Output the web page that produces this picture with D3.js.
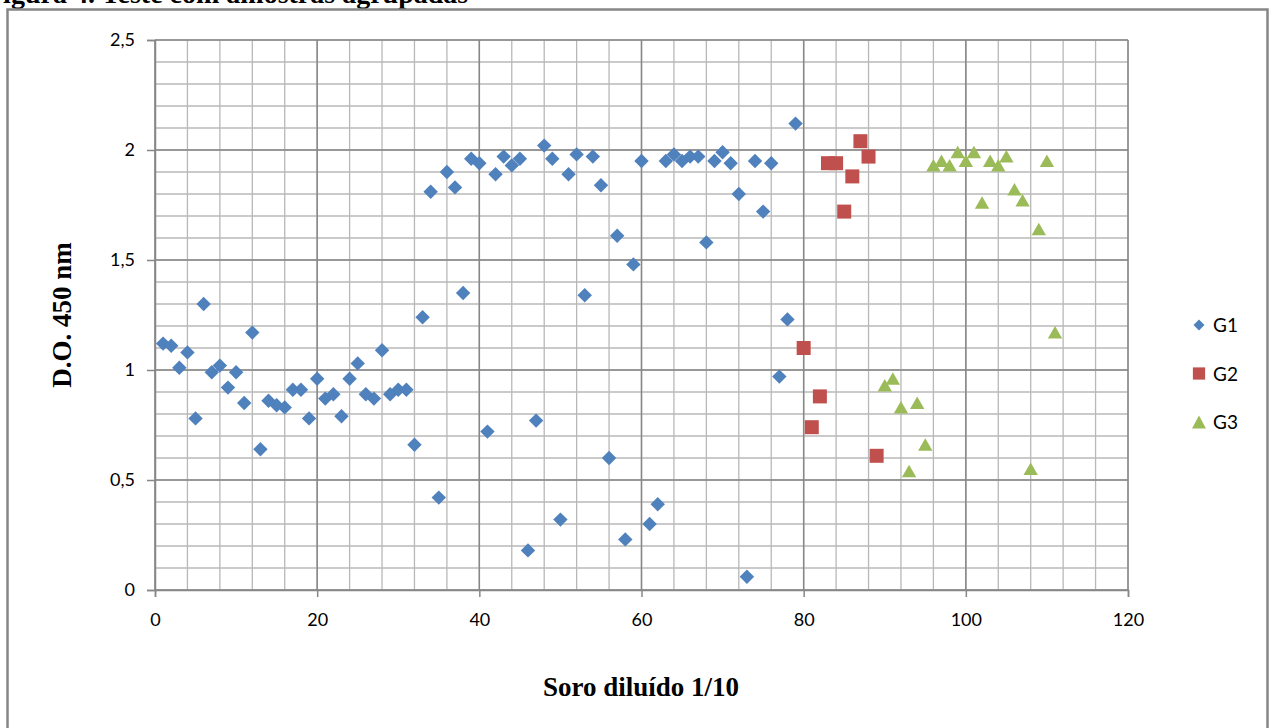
<!DOCTYPE html>
<html>
<head>
<meta charset="utf-8">
<script src="https://cdn.jsdelivr.net/npm/d3@7"></script>
<style>
  body { margin: 0; background: #fff; }
  svg { display: block; }
</style>
</head>
<body>
<div class="grafico"></div>
<script>
// dados
var g1x = [1,2,3,4,5,6,7,8,9,10,11,12,13,14,15,16,17,18,19,20,21,22,23,24,25,26,27,28,29,30,
           31,32,33,34,35,36,37,38,39,40,41,42,43,44,45,46,47,48,49,50,51,52,53,54,55,56,57,58,59,60,
           61,62,63,64,65,66,67,68,69,70,71,72,73,74,75,76,77,78,79];
var g1y = [1.12,1.11,1.01,1.08,0.78,1.30,0.99,1.02,0.92,0.99,0.85,1.17,0.64,0.86,0.84,0.83,0.91,0.91,0.78,0.96,
           0.87,0.89,0.79,0.96,1.03,0.89,0.87,1.09,0.89,0.91,0.91,0.66,1.24,1.81,0.42,1.90,1.83,1.35,1.96,1.94,
           0.72,1.89,1.97,1.93,1.96,0.18,0.77,2.02,1.96,0.32,1.89,1.98,1.34,1.97,1.84,0.60,1.61,0.23,1.48,1.95,
           0.30,0.39,1.95,1.98,1.95,1.97,1.97,1.58,1.95,1.99,1.94,1.80,0.06,1.95,1.72,1.94,0.97,1.23,2.12];
var g2x = [80,81,82,83,84,85,86,87,88,89];
var g2y = [1.10,0.74,0.88,1.94,1.94,1.72,1.88,2.04,1.97,0.61];
var g3x = [90,91,92,93,94,95,96,97,98,99,100,101,102,103,104,105,106,107,108,109,110,111];
var g3y = [0.93,0.96,0.83,0.54,0.85,0.66,1.93,1.95,1.93,1.99,1.95,1.99,1.76,1.95,1.93,1.97,1.82,1.77,0.55,1.64,1.95,1.17];

var series = ["G1", "G2", "G3"];
var xTicks = [0, 20, 40, 60, 80, 100, 120];
var yTicks = [0, 0.5, 1, 1.5, 2, 2.5];
var yTickLabels = ["0", "0,5", "1", "1,5", "2", "2,5"];

var w = 1272;
var h = 728;

var svg = d3.select(".grafico").append("svg")
    .attr("width", w)
    .attr("height", h);

// titulo cortado no topo (como na figura original)
svg.append("text")
    .text("Figura 4. Teste com amostras agrupadas")
    .attr("x", -14).attr("y", 3)
    .attr("font-family", "Liberation Serif").attr("font-weight", "bold")
    .attr("font-size", "28px").attr("fill", "#000");

// moldura
svg.append("rect")
    .attr("x", 7.5).attr("y", 9.5)
    .attr("width", 1260).attr("height", 740)
    .attr("fill", "none").attr("stroke", "#868686").attr("stroke-width", 2.5);

var x = d3.scaleLinear().domain([0, 120]).range([155, 1128]);
var y = d3.scaleLinear().domain([0, 2.5]).range([590, 40]);

// grade secundaria
var minorX = d3.range(0, 121, 4);
var minorY = d3.range(0, 26, 1).map(function(d) { return d / 10; });
svg.selectAll(".minx").data(minorX).enter().append("line")
    .attr("x1", function(d) { return x(d); }).attr("x2", function(d) { return x(d); })
    .attr("y1", y(0)).attr("y2", y(2.5))
    .attr("stroke", "#b8b8b8").attr("stroke-width", 1.3);
svg.selectAll(".miny").data(minorY).enter().append("line")
    .attr("x1", x(0)).attr("x2", x(120))
    .attr("y1", function(d) { return y(d); }).attr("y2", function(d) { return y(d); })
    .attr("stroke", "#b8b8b8").attr("stroke-width", 1.3);

// grade principal
svg.selectAll(".majx").data(xTicks).enter().append("line")
    .attr("x1", function(d) { return x(d); }).attr("x2", function(d) { return x(d); })
    .attr("y1", y(0)).attr("y2", y(2.5))
    .attr("stroke", "#878787").attr("stroke-width", 1.5);
svg.selectAll(".majy").data(yTicks).enter().append("line")
    .attr("x1", x(0)).attr("x2", x(120))
    .attr("y1", function(d) { return y(d); }).attr("y2", function(d) { return y(d); })
    .attr("stroke", "#878787").attr("stroke-width", 1.5);

// eixos
var xAxis = svg.append("g").attr("transform", "translate(0," + y(0) + ")")
    .call(d3.axisBottom(x).tickValues(xTicks).tickSize(7).tickPadding(16).tickFormat(d3.format("d")));
var yAxis = svg.append("g").attr("transform", "translate(" + x(0) + ",0)")
    .call(d3.axisLeft(y).tickValues(yTicks).tickSize(8).tickPadding(12)
        .tickFormat(function(d, i) { return yTickLabels[i]; }));
[xAxis, yAxis].forEach(function(a) {
    a.select(".domain").attr("stroke", "#878787").attr("stroke-width", 1.5);
    a.selectAll(".tick line").attr("stroke", "#878787").attr("stroke-width", 1.5);
    a.selectAll("text").attr("font-family", "Lato").attr("font-size", "18px").attr("fill", "#000");
});

// titulos dos eixos
svg.append("text")
    .text("Soro diluído 1/10")
    .attr("x", 641).attr("y", 696)
    .attr("text-anchor", "middle")
    .attr("font-family", "Liberation Serif").attr("font-weight", "bold")
    .attr("font-size", "27px").attr("fill", "#000");
svg.append("text")
    .text("D.O. 450 nm")
    .attr("transform", "translate(71,315) rotate(-90)")
    .attr("text-anchor", "middle")
    .attr("font-family", "Liberation Serif").attr("font-weight", "bold")
    .attr("font-size", "27px").attr("fill", "#000");

// marcadores
var diamond = d3.symbol().type(d3.symbolSquare).size(104);
var square = d3.symbol().type(d3.symbolSquare).size(196);
function triangle() { return "M0,-6.5L7.2,6L-7.2,6Z"; }

var cores = ["#4f81bd", "#c0504d", "#9bbb59"];

svg.selectAll(".g1").data(g1x).enter().append("path")
    .attr("d", diamond)
    .attr("transform", function(d, i) { return "translate(" + x(d) + "," + y(g1y[i]) + ") rotate(45)"; })
    .attr("fill", cores[0]);
svg.selectAll(".g2").data(g2x).enter().append("path")
    .attr("d", square)
    .attr("transform", function(d, i) { return "translate(" + x(d) + "," + y(g2y[i]) + ")"; })
    .attr("fill", cores[1]);
svg.selectAll(".g3").data(g3x).enter().append("path")
    .attr("d", triangle)
    .attr("transform", function(d, i) { return "translate(" + x(d) + "," + y(g3y[i]) + ")"; })
    .attr("fill", cores[2]);

// legenda
var leg = svg.selectAll(".leg").data(series).enter().append("g")
    .attr("transform", function(d, i) { return "translate(1199," + (325 + i * 48.5) + ")"; });
leg.append("path")
    .attr("d", function(d, i) {
        if (i == 0) return d3.symbol().type(d3.symbolSquare).size(60)();
        if (i == 1) return d3.symbol().type(d3.symbolSquare).size(150)();
        return "M0,-6.5L7,6.5L-7,6.5Z";
    })
    .attr("transform", function(d, i) { return i == 0 ? "rotate(45)" : ""; })
    .attr("fill", function(d, i) { return cores[i]; });
leg.append("text")
    .text(function(d) { return d; })
    .attr("x", 14).attr("y", 7)
    .attr("font-family", "Lato").attr("font-size", "19px").attr("fill", "#000");
</script>
</body>
</html>
